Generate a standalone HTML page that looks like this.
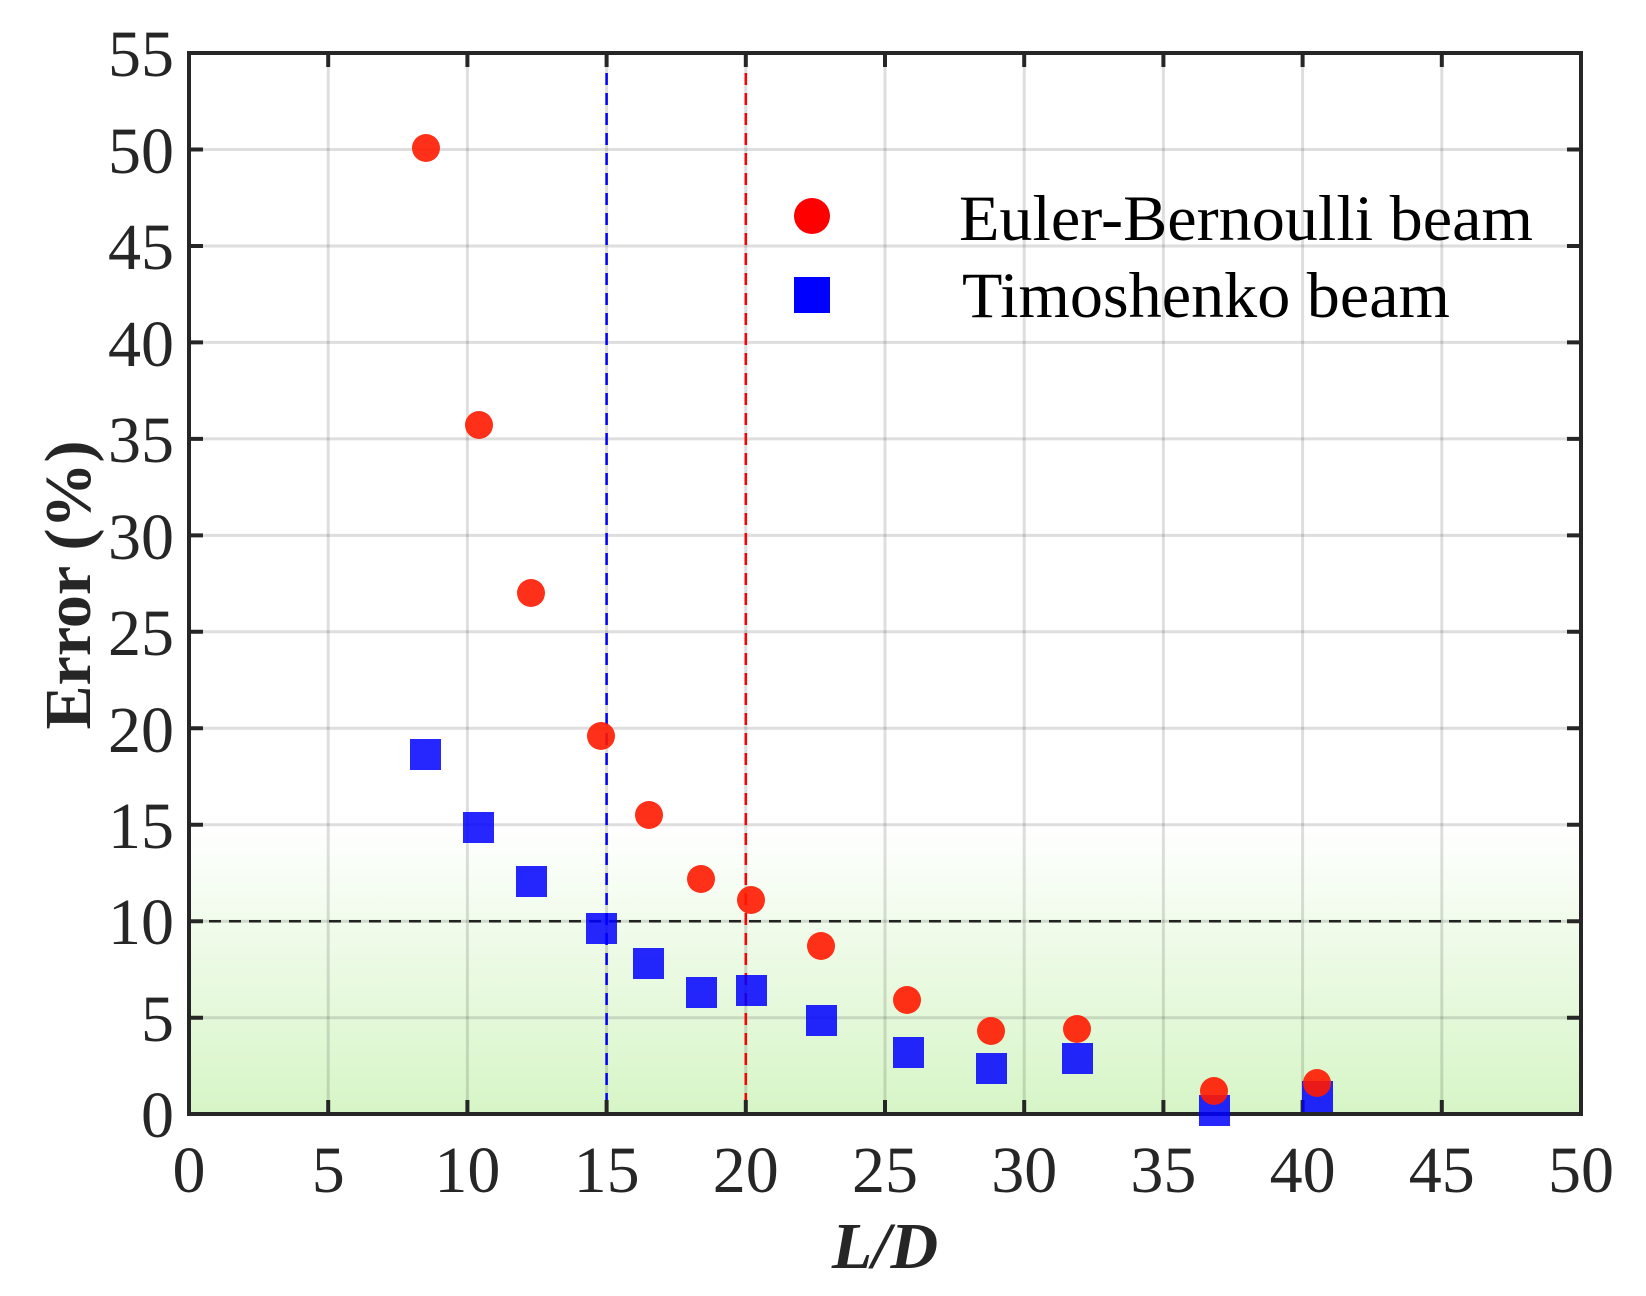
<!DOCTYPE html>
<html><head><meta charset="utf-8"><style>html,body{margin:0;padding:0;background:#fff}svg{display:block}</style></head>
<body>
<svg width="1646" height="1296" xmlns="http://www.w3.org/2000/svg" font-family="Liberation Serif, serif">
<defs>
<linearGradient id="g" x1="0" y1="0" x2="0" y2="1">
<stop offset="0" stop-color="#ffffff"/>
<stop offset="1" stop-color="#d6f5c6"/>
</linearGradient>
</defs>
<!-- plot box: x0=189, x1=1581, y0=53, y1=1114 -->
<rect x="189" y="824" width="1392" height="290" fill="url(#g)"/>
<g stroke="#000" stroke-opacity="0.13" stroke-width="3">
<line x1="328.2" y1="53" x2="328.2" y2="1114"/><line x1="467.4" y1="53" x2="467.4" y2="1114"/>
<line x1="606.6" y1="53" x2="606.6" y2="1114"/><line x1="745.8" y1="53" x2="745.8" y2="1114"/>
<line x1="885" y1="53" x2="885" y2="1114"/><line x1="1024.2" y1="53" x2="1024.2" y2="1114"/>
<line x1="1163.4" y1="53" x2="1163.4" y2="1114"/><line x1="1302.6" y1="53" x2="1302.6" y2="1114"/>
<line x1="1441.8" y1="53" x2="1441.8" y2="1114"/>
<line x1="189" y1="149.5" x2="1581" y2="149.5"/><line x1="189" y1="246" x2="1581" y2="246"/>
<line x1="189" y1="342.4" x2="1581" y2="342.4"/><line x1="189" y1="438.9" x2="1581" y2="438.9"/>
<line x1="189" y1="535.4" x2="1581" y2="535.4"/><line x1="189" y1="631.8" x2="1581" y2="631.8"/>
<line x1="189" y1="728.3" x2="1581" y2="728.3"/><line x1="189" y1="824.8" x2="1581" y2="824.8"/>
<line x1="189" y1="921.2" x2="1581" y2="921.2"/><line x1="189" y1="1017.7" x2="1581" y2="1017.7"/>
</g>
<g stroke-width="2.5" stroke-dasharray="12,8" fill="none">
<line x1="189" y1="921.2" x2="1581" y2="921.2" stroke="#222"/>
<line x1="606.6" y1="53" x2="606.6" y2="1114" stroke="#0000ff"/>
<line x1="745.8" y1="53" x2="745.8" y2="1114" stroke="#ff0000"/>
</g>
<!-- axes and ticks -->
<g stroke="#262626" stroke-width="4" fill="none">
<rect x="189" y="53" width="1392" height="1061"/>
</g>
<g stroke="#262626" stroke-width="4">
<path d="M328.2 1114v-14M467.4 1114v-14M606.6 1114v-14M745.8 1114v-14M885 1114v-14M1024.2 1114v-14M1163.4 1114v-14M1302.6 1114v-14M1441.8 1114v-14
M328.2 53v14M467.4 53v14M606.6 53v14M745.8 53v14M885 53v14M1024.2 53v14M1163.4 53v14M1302.6 53v14M1441.8 53v14
M189 149.5h14M189 246h14M189 342.4h14M189 438.9h14M189 535.4h14M189 631.8h14M189 728.3h14M189 824.8h14M189 921.2h14M189 1017.7h14
M1581 149.5h-14M1581 246h-14M1581 342.4h-14M1581 438.9h-14M1581 535.4h-14M1581 631.8h-14M1581 728.3h-14M1581 824.8h-14M1581 921.2h-14M1581 1017.7h-14"/>
</g>
<!-- y tick labels -->
<g font-size="66" fill="#262626" text-anchor="end">
<text x="174" y="76">55</text><text x="174" y="173">50</text><text x="174" y="269">45</text>
<text x="174" y="366">40</text><text x="174" y="462">35</text><text x="174" y="559">30</text>
<text x="174" y="655">25</text><text x="174" y="752">20</text><text x="174" y="848">15</text>
<text x="174" y="944">10</text><text x="174" y="1041">5</text><text x="174" y="1137">0</text>
</g>
<g font-size="66" fill="#262626" text-anchor="middle">
<text x="189" y="1192">0</text><text x="328.2" y="1192">5</text><text x="467.4" y="1192">10</text>
<text x="606.6" y="1192">15</text><text x="745.8" y="1192">20</text><text x="885" y="1192">25</text>
<text x="1024.2" y="1192">30</text><text x="1163.4" y="1192">35</text><text x="1302.6" y="1192">40</text>
<text x="1441.8" y="1192">45</text><text x="1581" y="1192">50</text>
</g>
<text x="885" y="1268" font-size="66" font-weight="bold" font-style="italic" fill="#262626" text-anchor="middle">L/D</text>
<text transform="translate(90,585) rotate(-90)" font-size="66" font-weight="bold" fill="#262626" text-anchor="middle">Error (%)</text>
<!-- Timoshenko squares -->
<g fill="#0000ff" fill-opacity="0.85">
<rect x="410" y="739" width="31" height="31"/>
<rect x="463" y="812" width="31" height="31"/>
<rect x="516" y="866" width="31" height="31"/>
<rect x="586" y="913" width="31" height="31"/>
<rect x="633" y="948" width="31" height="31"/>
<rect x="686" y="977" width="31" height="31"/>
<rect x="736" y="975" width="31" height="31"/>
<rect x="806" y="1005" width="31" height="31"/>
<rect x="893" y="1037" width="31" height="31"/>
<rect x="976" y="1053" width="31" height="31"/>
<rect x="1062" y="1043" width="31" height="31"/>
<rect x="1199" y="1095" width="31" height="31"/>
<rect x="1302" y="1081" width="31" height="31"/>
</g>
<!-- EB circles -->
<g fill="#ff1a00" fill-opacity="0.9">
<circle cx="426" cy="148" r="14"/>
<circle cx="479" cy="425" r="14"/>
<circle cx="531" cy="593" r="14"/>
<circle cx="601" cy="736" r="14"/>
<circle cx="649" cy="815" r="14"/>
<circle cx="701" cy="879" r="14"/>
<circle cx="751" cy="900" r="14"/>
<circle cx="821" cy="946" r="14"/>
<circle cx="907" cy="1000" r="14"/>
<circle cx="991" cy="1031" r="14"/>
<circle cx="1077" cy="1029" r="14"/>
<circle cx="1214" cy="1091" r="14"/>
<circle cx="1317" cy="1083" r="14"/>
</g>
<!-- legend -->
<circle cx="812" cy="216" r="18" fill="#ff0000"/>
<rect x="794" y="277" width="36" height="36" fill="#0000ff"/>
<g font-size="65" fill="#000">
<text x="959" y="240" textLength="574" lengthAdjust="spacingAndGlyphs">Euler-Bernoulli beam</text>
<text x="962" y="317" textLength="488" lengthAdjust="spacingAndGlyphs">Timoshenko beam</text>
</g>
</svg>
</body></html>
